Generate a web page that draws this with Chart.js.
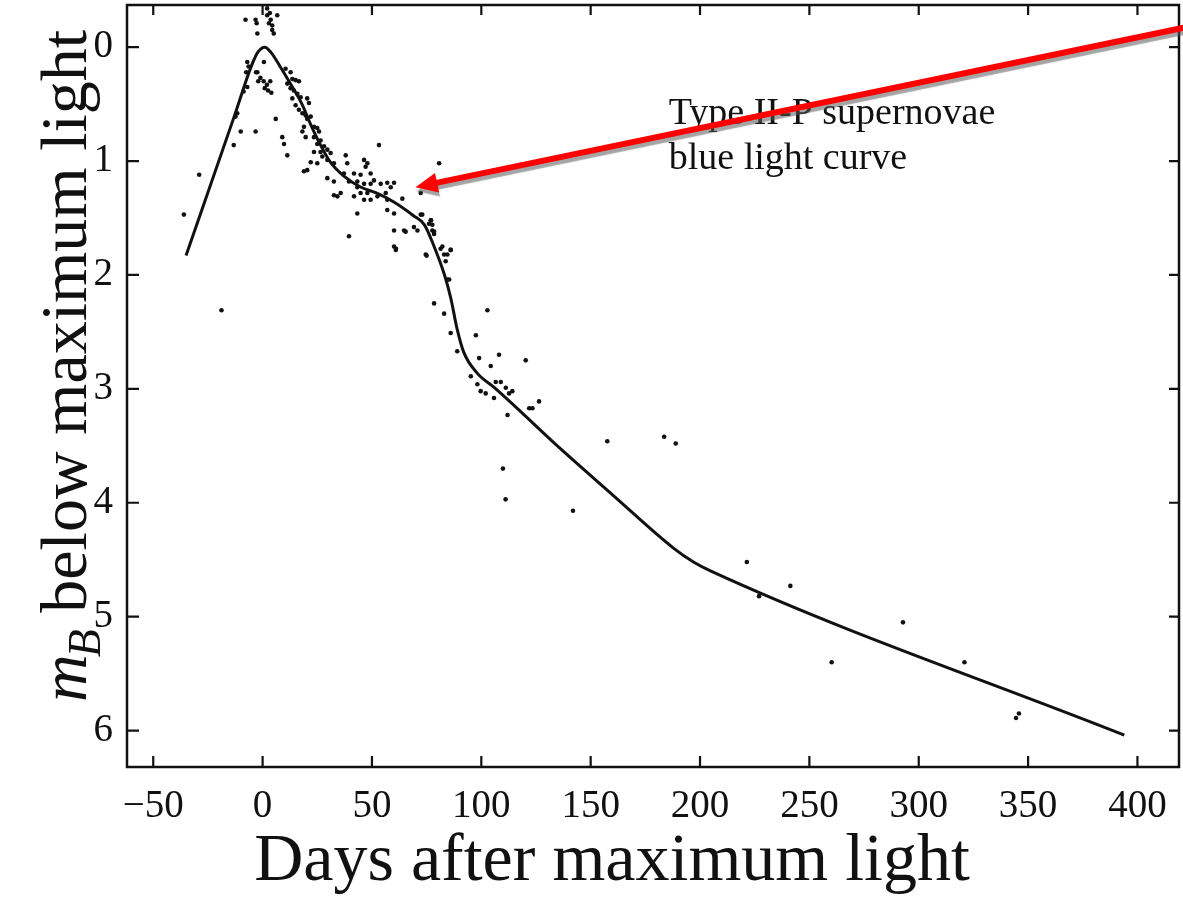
<!DOCTYPE html>
<html lang="en">
<head>
  <meta charset="UTF-8" />
  <title>Type II-P supernovae blue light curve</title>
  <style>
    html, body { margin: 0; padding: 0; background: #fff; }
    #wrap { width: 1183px; height: 923px; }
  </style>
</head>
<body>
<div id="wrap"><canvas id="lightCurve" width="1183" height="923"></canvas></div>
<script src="https://cdn.jsdelivr.net/npm/chart.js"></script>
<script>
  // mean template curve (days after max, mag below max)
  const curveDays = [-35, -13, -5, -2, 1, 4, 8, 13, 18, 22, 26.5, 31, 37, 45, 52, 60, 69, 74, 78, 83, 86, 89, 92, 98, 106, 118, 133, 160, 188, 197, 205, 394];
  const curveMag  = [1.83, 0.61, 0.16, 0.04, 0, 0.05, 0.17, 0.33, 0.5, 0.68, 0.86, 1.01, 1.13, 1.23, 1.28, 1.36, 1.48, 1.56, 1.73, 1.99, 2.2, 2.48, 2.68, 2.86, 2.99, 3.2, 3.47, 3.93, 4.4, 4.52, 4.6, 6.04];

  // individual observations
  const obsDays = [
    -7.8, -3.2, -2.7, 2.1, 2.9, 4.4, 5.1, 6.7, -2.4, 2.1, 3.7, 4.4, 3.3,
    -7, 0.6, -2.4, -3, -1, 0.5, 2, 2.5, 1, -2, 3.5, 4, -6.4, -7.5, -7, -8.7, -11.6, -12.4, -10, -3.2, -13.2, 6, 9, 9.8, 11.3, -29, -36, -18.8,
    10.5, 12.8, 13.6, 15.1, 16.6, 11.3, 12.8, 14.3, 15.9, 17.4, 20.4, 13.6, 15.1, 16.6, 18.2, 19.7, 20.4, 21.2, 22, 18.9,
    23.5, 25, 25.8, 18.2, 19.7, 23.5, 26.5, 25, 28.1, 26.5, 29.6, 31.1, 23.5, 22, 20.4, 18.9, 25, 27.3, 29.6, 32.6, 29.6, 32.6,
    38, 38.7, 41.8, 44.8, 46.4, 47.9, 47.1, 49.4, 53.2, 37.2, 39.5, 43.3, 46.4, 49.4, 50.9, 54, 57, 60.1, 56.3, 58.6, 57, 52.5,
    43.3, 44.8, 46.4, 41.8, 47.9, 49.4, 43.3, 32.6, 35.7, 34.2, 57, 60.1, 63.9, 72.3, 80.7, 60.1, 64.7, 69.2, 70.8, 72.3, 76.9,
    77.6, 78.4, 76.1, 39.5, 60.1, 60.9, 74.6, 81.4, 86, 84.5, 84.5,
    65.4, 61, 75, 82.2, 86, 83, 83.7, 85.3, 78.4, 102.8, 83, 86, 97.5, 89, 99, 108.1, 104.3, 120.3, 95.2, 98.2, 99.7, 102,
    106.6, 108.9, 111.2, 112.7, 114.2, 105.8, 121.9, 123.4, 126.4, 112, 77, 77.6, 73, 78.4,
    157.6, 183.6, 188.9, 109.9, 111.1, 141.9, 221.4, 227, 241.3, 260.2, 292.8, 320.9, 344.5, 345.8
  ];
  const obsMag = [
    -0.24, -0.24, -0.21, -0.28, -0.21, -0.15, -0.12, -0.28, -0.12, -0.34, -0.24, -0.19, -0.3,
    0.13, 0.13, 0.22, 0.22, 0.27, 0.3, 0.33, 0.38, 0.36, 0.3, 0.3, 0.4, 0.17, 0.22, 0.35, 0.39, 0.58, 0.61, 0.74, 0.74, 0.86, 0.63, 0.79, 0.85, 0.95, 1.12, 1.47, 2.31,
    0.19, 0.22, 0.28, 0.29, 0.3, 0.32, 0.36, 0.38, 0.41, 0.44, 0.45, 0.45, 0.51, 0.55, 0.58, 0.6, 0.63, 0.49, 0.61, 0.7,
    0.7, 0.71, 0.74, 0.74, 0.79, 0.79, 0.82, 0.85, 0.87, 0.92, 0.9, 0.93, 0.92, 1.01, 1.08, 1.09, 1.02, 0.96, 0.99, 1.02, 1.15, 1.18,
    0.95, 1.02, 1.11, 1.12, 0.99, 1.02, 1.05, 1.11, 0.86, 1.11, 1.18, 1.18, 1.2, 1.2, 1.17, 1.2, 1.19, 1.19, 1.28, 1.23, 1.34, 1.31,
    1.23, 1.28, 1.34, 1.31, 1.28, 1.34, 1.46, 1.3, 1.28, 1.31, 1.43, 1.46, 1.33, 1.28, 1.02, 1.61, 1.61, 1.58, 1.61, 1.47, 1.52,
    1.61, 1.64, 1.55, 1.66, 1.75, 1.78, 1.82, 1.77, 1.78, 1.82, 2.04,
    1.62, 1.77, 1.83, 1.75, 1.78, 1.82, 1.88, 2.04, 2.25, 2.31, 2.34, 2.51, 2.53, 2.67, 2.73, 2.7, 2.8, 2.75, 2.89, 2.96, 3.02, 3.04,
    2.94, 2.94, 2.99, 3.04, 3.02, 3.08, 3.17, 3.17, 3.11, 3.23, 1.52, 1.56, 1.47, 1.62,
    3.46, 3.42, 3.48, 3.7, 3.97, 4.07, 4.52, 4.82, 4.73, 5.4, 5.05, 5.4, 5.89, 5.85
  ];

  const xTicks = [-50, 0, 50, 100, 150, 200, 250, 300, 350, 400];
  const yTicks = [0, 1, 2, 3, 4, 5, 6];
  const noteLines = ['Type II-P supernovae', 'blue light curve'];

  const serif = '"Liberation Serif", "Times New Roman", serif';

  const toPts = (xs, ys) => xs.map((d, i) => ({ x: d, y: ys[i] }));

  // frame, inward ticks, axis titles, note and arrow
  const decorations = {
    id: 'decorations',
    afterDraw(chart) {
      const { ctx, chartArea: a, scales: { x, y } } = chart;
      ctx.save();

      ctx.strokeStyle = '#111';
      ctx.lineWidth = 2.5;
      ctx.strokeRect(a.left, a.top, a.right - a.left, a.bottom - a.top);

      ctx.lineWidth = 2.2;
      ctx.beginPath();
      xTicks.forEach(v => {
        const px = x.getPixelForValue(v);
        ctx.moveTo(px, a.bottom); ctx.lineTo(px, a.bottom - 11);
        ctx.moveTo(px, a.top); ctx.lineTo(px, a.top + 10);
      });
      yTicks.forEach(v => {
        const py = y.getPixelForValue(v);
        ctx.moveTo(a.left, py); ctx.lineTo(a.left + 12, py);
        ctx.moveTo(a.right, py); ctx.lineTo(a.right - 10, py);
      });
      ctx.stroke();

      ctx.fillStyle = '#111';
      ctx.textBaseline = 'alphabetic';

      // x title
      ctx.font = '68px ' + serif;
      ctx.textAlign = 'center';
      ctx.fillText('Days after maximum light', 612, 880);

      // y title: italic m with subscript B
      ctx.save();
      ctx.translate(86, 702);
      ctx.rotate(-Math.PI / 2);
      ctx.textAlign = 'left';
      ctx.font = 'italic 66px ' + serif;
      ctx.fillText('m', 0, 0);
      let off = ctx.measureText('m').width;
      ctx.font = 'italic 46px ' + serif;
      ctx.fillText('B', off - 3, 14);
      off += ctx.measureText('B').width - 3;
      ctx.font = '66px ' + serif;
      ctx.fillText(' below maximum light', off, 0);
      ctx.restore();

      // note
      ctx.font = '38px ' + serif;
      ctx.textAlign = 'left';
      const nx = x.getPixelForValue(185.7);
      ctx.fillText(noteLines[0], nx, y.getPixelForValue(0.675));
      ctx.fillText(noteLines[1], nx, y.getPixelForValue(1.07));

      // red arrow pointing at the plateau
      const tipX = x.getPixelForValue(69.9), tipY = y.getPixelForValue(1.23);
      const tailX = x.getPixelForValue(424.5), tailY = y.getPixelForValue(-0.184);
      const ang = Math.atan2(tipY - tailY, tipX - tailX);
      const headLen = 22, headHalf = 10;
      const baseX = tipX - headLen * Math.cos(ang), baseY = tipY - headLen * Math.sin(ang);
      ctx.shadowColor = 'rgba(90,90,90,0.55)';
      ctx.shadowOffsetX = 1;
      ctx.shadowOffsetY = 4;
      ctx.shadowBlur = 1;
      ctx.strokeStyle = '#ff0000';
      ctx.fillStyle = '#ff0000';
      ctx.lineWidth = 6;
      ctx.beginPath();
      ctx.moveTo(tailX, tailY);
      ctx.lineTo(baseX + 2 * Math.cos(ang), baseY + 2 * Math.sin(ang));
      ctx.stroke();
      ctx.beginPath();
      ctx.moveTo(tipX, tipY);
      ctx.lineTo(baseX - headHalf * Math.sin(ang), baseY + headHalf * Math.cos(ang));
      ctx.lineTo(baseX + headHalf * Math.sin(ang), baseY - headHalf * Math.cos(ang));
      ctx.closePath();
      ctx.fill();

      ctx.restore();
    }
  };

  new Chart(document.getElementById('lightCurve'), {
    type: 'scatter',
    data: {
      datasets: [
        {
          label: 'template',
          data: toPts(curveDays, curveMag),
          showLine: true,
          borderColor: '#111',
          borderWidth: 3,
          pointRadius: 0,
          cubicInterpolationMode: 'monotone'
        },
        {
          label: 'observations',
          data: toPts(obsDays, obsMag),
          pointRadius: 2.3,
          pointBorderWidth: 0,
          backgroundColor: '#111',
          borderColor: '#111'
        }
      ]
    },
    options: {
      responsive: false,
      animation: false,
      devicePixelRatio: 1,
      layout: { padding: { top: 5, right: 3, left: 0, bottom: 0 } },
      plugins: { legend: { display: false }, tooltip: { enabled: false } },
      scales: {
        x: {
          type: 'linear',
          min: -62,
          max: 419,
          afterBuildTicks: s => { s.ticks = xTicks.map(v => ({ value: v })); },
          afterFit: s => { s.height = 156; s.paddingLeft = 0; s.paddingRight = 0; },
          grid: { display: false, drawTicks: false },
          border: { display: false },
          ticks: {
            padding: 16,
            color: '#111',
            font: { family: serif, size: 39 },
            callback: v => v < 0 ? '\u2212' + Math.abs(v) : String(v)
          }
        },
        y: {
          type: 'linear',
          reverse: true,
          min: -0.37,
          max: 6.32,
          afterBuildTicks: s => { s.ticks = yTicks.map(v => ({ value: v })); },
          afterFit: s => { s.width = 127; s.paddingTop = 0; s.paddingBottom = 0; },
          grid: { display: false, drawTicks: false },
          border: { display: false },
          ticks: {
            padding: 14,
            color: '#111',
            font: { family: serif, size: 39 }
          }
        }
      }
    },
    plugins: [decorations]
  });
</script>
</body>
</html>
